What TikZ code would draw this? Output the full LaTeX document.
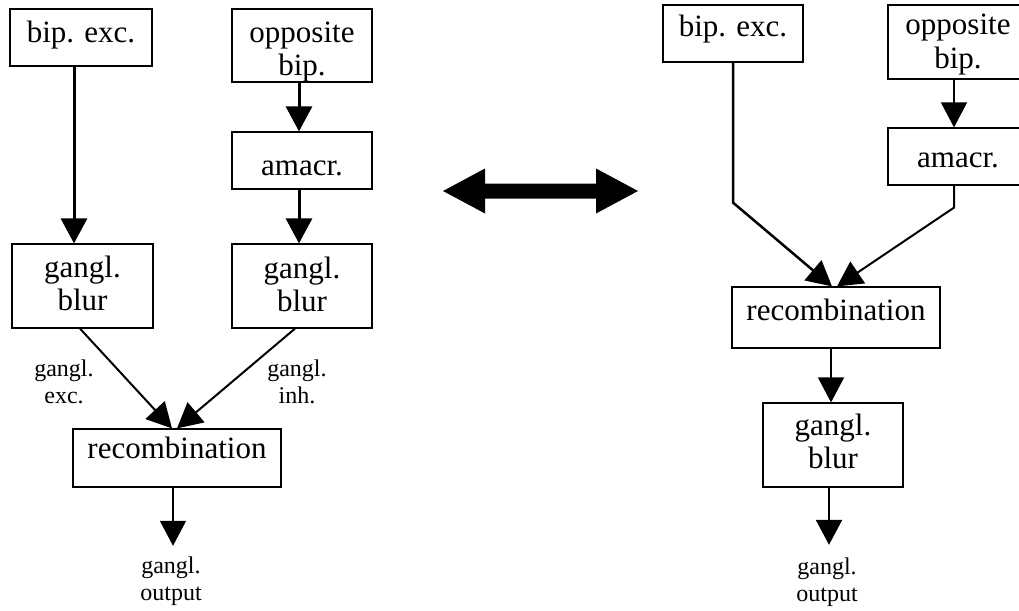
\documentclass[tikz,border=0pt]{standalone}
\usepackage{fontspec}
\setmainfont{Liberation Serif}
\usetikzlibrary{arrows.meta}
\newcommand\boxfont{\fontsize{31}{33}\selectfont}
\newcommand\labfont{\fontsize{24}{27}\selectfont}
\tikzset{
  % text height/depth are measured from the baseline of the last line
  bx/.style n args={3}{draw, line width=1.2pt, inner sep=0pt, align=center,
    font=\boxfont, minimum width=#1, text height=#2, text depth=#3},
  lab/.style={inner sep=0pt, align=center, font=\labfont, anchor=base},
  tip/.style={-{Triangle[length=25pt,width=26pt]}},
  conn/.style={tip, line width=#1},
}
\begin{document}
\begin{tikzpicture}[x=1pt,y=-1pt]
\useasboundingbox (0,0) rectangle (1019,610);
\clip (0,0) rectangle (1019,610);

% ---- separate pathways ----
\node[bx={142pt}{33pt}{24pt}] (bipL) at (81,37.5) {bip. exc.};
\node[bx={140pt}{66pt}{7pt}] (oppL) at (302,45.5) {opposite\\bip.};
\node[bx={140pt}{43pt}{14pt}] (amaL) at (302,160.5) {amacr.};
\node[bx={141pt}{66pt}{18pt}] (blurL) at (82.5,286) {gangl.\\blur};
\node[bx={140pt}{67pt}{17pt}] (blurI) at (302,286) {gangl.\\blur};
\node[bx={208pt}{29pt}{29pt}] (recL) at (177,458) {recombination};
\node[lab] (excL) at (64,403) {gangl.\\exc.};
\node[lab] (inhL) at (297,403) {gangl.\\inh.};
\node[lab, text height=54pt] (outL) at (171,600) {gangl.\\output};

\draw[conn=3pt] ([xshift=-7pt]bipL.south) -- ([xshift=-8.5pt]blurL.north);
\draw[conn=3pt] ([xshift=-3pt]oppL.south) -- ([xshift=-3pt]amaL.north);
\draw[conn=3pt] ([xshift=-3pt]amaL.south) -- ([xshift=-3pt]blurI.north);
\draw[conn=2pt] ([xshift=-2.5pt]blurL.south) -- ([xshift=-5pt]recL.north);
\draw[conn=2pt] ([xshift=-7pt]blurI.south) -- ([xshift=0pt]recL.north);
\draw[conn=1.5pt] ([xshift=-4pt]recL.south) -- ([xshift=2pt]outL.north);

% ---- equivalence ----
\fill (443,191) -- (485,168.5) -- (485,183.5) -- (596,183.5) -- (596,168.5)
  -- (638,191) -- (596,213.5) -- (596,198.5) -- (485,198.5) -- (485,213.5) -- cycle;

% ---- combined pathway ----
\node[bx={140pt}{32pt}{25pt}] (bipR) at (733,33.5) {bip. exc.};
\node[bx={140pt}{63pt}{11pt}] (oppR) at (958,42) {opposite\\bip.};
\node[bx={140pt}{39pt}{18pt}] (amaR) at (958,156.5) {amacr.};
\node[bx={208pt}{33pt}{28pt}] (recR) at (836,317.5) {recombination};
\node[bx={140pt}{65pt}{19pt}] (blurR) at (833,445) {gangl.\\blur};
\node[lab, text height=56pt] (outR) at (827,601) {gangl.\\output};

\draw[conn=1.5pt] ([xshift=-4pt]oppR.south) -- ([xshift=-4pt]amaR.north);
\draw[conn=2.5pt] (bipR.south) -- ++(0,140) -- ([xshift=-4pt]recR.north);
\draw[conn=2pt] ([xshift=-4pt]amaR.south) -- ++(0,22) -- ([xshift=1pt]recR.north);
\draw[conn=1.5pt] ([xshift=-5pt]recR.south) -- ([xshift=-2pt]blurR.north);
\draw[conn=2.5pt] ([xshift=-4pt]blurR.south) -- ([xshift=2pt]outR.north);
\end{tikzpicture}
\end{document}
